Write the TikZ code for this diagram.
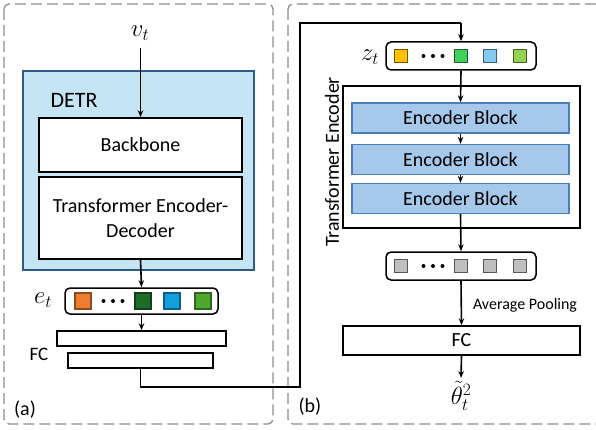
\documentclass[tikz,border=0pt]{standalone}
\usepackage{fontspec}
\setmainfont{Carlito}
\usetikzlibrary{arrows.meta}
\definecolor{detrfill}{HTML}{C5E5F5}
\definecolor{detrline}{HTML}{2E5A86}
\definecolor{blockfill}{HTML}{A6C9EB}
\definecolor{blockline}{HTML}{4A7EBB}
\definecolor{panelgray}{HTML}{8C8C8C}
\definecolor{tokOrange}{HTML}{ED7D31}
\definecolor{tokDkGreen}{HTML}{1F6B29}
\definecolor{tokBlue}{HTML}{12A0DB}
\definecolor{tokGreen}{HTML}{4EA82F}
\definecolor{tokYellow}{HTML}{FFC000}
\definecolor{tokMint}{HTML}{3DD15A}
\definecolor{tokSky}{HTML}{80CBEE}
\definecolor{tokLime}{HTML}{93D150}
\definecolor{tokGray}{HTML}{BFBFBF}
\tikzset{
  panel/.style={draw=panelgray, line width=1.3pt, dash pattern=on 11pt off 5pt, rounded corners=5pt},
  plainbox/.style={draw=black, line width=1.5pt, fill=white, inner sep=0pt, align=center,
    font=\fontsize{20}{25}\selectfont},
  encblock/.style={draw=blockline, line width=1.4pt, fill=blockfill, inner sep=0pt,
    minimum width=217pt, minimum height=30pt, font=\fontsize{20}{24}\selectfont},
  tokenrow/.style={draw=black, line width=1.5pt, rounded corners=5pt, fill=white, inner sep=0pt},
  bigtok/.style={draw=#1!60!black, line width=1.1pt, fill=#1, minimum size=16pt, inner sep=0pt},
  smalltok/.style={draw=#1!45!black, line width=1.1pt, fill=#1, minimum size=12.5pt, inner sep=0pt},
  dotmark/.style={circle, fill=black, minimum size=4pt, inner sep=0pt},
  flow/.style={line width=1.6pt, -{Stealth[length=7pt,width=5.5pt]}},
  wire/.style={line width=1.5pt},
  lbl/.style={font=\fontsize{20}{24}\selectfont, inner sep=0pt},
  mathlbl/.style={font=\fontsize{24}{28}\selectfont, inner sep=0pt}
}
\begin{document}
\begin{tikzpicture}[x=1pt,y=-1pt]
\useasboundingbox (0,0) rectangle (596,430);

% the two dashed panels
\draw[panel] (4,4) rectangle (273,424);
\draw[panel] (288,4) rectangle (620,424);
\node[lbl] (labA) at (25,410) {(a)};
\node[lbl] (labB) at (310,407) {(b)};

% ---- panel (a): DETR feature extractor ----
\node[draw=detrline, line width=1.4pt, fill=detrfill, minimum width=231pt, minimum height=199pt,
      inner sep=0pt] (detr) at (138.5,170.5) {};
\node[lbl, font=\fontsize{22}{26}\selectfont] (detrname) at (74,100) {DETR};
\node[plainbox, minimum width=203pt, minimum height=54pt] (backbone) at (140.5,145) {Backbone};
\node[plainbox, minimum width=203pt, minimum height=82pt] (encdec) at (140.5,218)
  {Transformer Encoder-\\Decoder};
\node[mathlbl] (vt) at (140,33) {$v_t$};
\coordinate (vtstart) at (140.5,48);
\draw[flow] (vtstart) -- (backbone.north);

\node[tokenrow, minimum width=153pt, minimum height=26pt] (erow) at (141.5,301) {};
\node[bigtok=tokOrange] (e1) at (83,301) {};
\node[dotmark] (ed1) at (103.5,301) {};
\node[dotmark] (ed2) at (113,301) {};
\node[dotmark] (ed3) at (122.5,301) {};
\node[bigtok=tokDkGreen] (e2) at (143,301) {};
\node[bigtok=tokBlue] (e3) at (172,301) {};
\node[bigtok=tokGreen] (e4) at (203,301) {};
\node[mathlbl] (et) at (43,300) {$e_t$};
\draw[flow] (encdec.south) -- (erow.north);

\node[plainbox, minimum width=169pt, minimum height=15pt] (fc1) at (141.5,338.5) {};
\node[plainbox, minimum width=145pt, minimum height=15pt] (fc2) at (140.5,360.5) {};
\node[lbl, font=\fontsize{19}{22}\selectfont] (fcname) at (39,354) {FC};
\draw[flow] (erow.south) -- (fc1.north);

% ---- panel (b): temporal transformer ----
\node[tokenrow, minimum width=150pt, minimum height=28pt] (zrow) at (461,56) {};
\node[smalltok=tokYellow] (z1) at (401,56) {};
\node[dotmark] (zd1) at (423.5,56) {};
\node[dotmark] (zd2) at (433,56) {};
\node[dotmark] (zd3) at (442.5,56) {};
\node[smalltok=tokMint] (z2) at (461,56) {};
\node[smalltok=tokSky] (z3) at (490,56) {};
\node[smalltok=tokLime] (z4) at (520,56) {};
\node[mathlbl] (zt) at (370,57) {$z_t$};

% long connector from the FC head of (a) into the token row of (b)
\coordinate (c1) at (140.5,387);
\coordinate (c2) at (300,387);
\coordinate (c3) at (300,23);
\coordinate (c4) at (461,23);
\draw[wire] (fc2.south) -- (c1) -- (c2) -- (c3) -- (c4);
\draw[flow] (c4) -- (zrow.north);

\node[draw=black, line width=1.5pt, minimum width=237pt, minimum height=142pt, inner sep=0pt]
  (tenc) at (461.5,157) {};
\node[lbl, rotate=90] (tencname) at (332,162) {Transformer Encoder};
\node[encblock] (blk1) at (460.5,118) {Encoder Block};
\node[encblock] (blk2) at (460.5,159.5) {Encoder Block};
\node[encblock] (blk3) at (460.5,198.5) {Encoder Block};
\draw[flow] (zrow.south) -- (blk1.north);
\draw[flow] (blk1.south) -- (blk2.north);
\draw[flow] (blk2.south) -- (blk3.north);

\node[tokenrow, minimum width=150pt, minimum height=28pt] (grow) at (461,266) {};
\node[smalltok=tokGray] (g1) at (401,266) {};
\node[dotmark] (gd1) at (423.5,266) {};
\node[dotmark] (gd2) at (433,266) {};
\node[dotmark] (gd3) at (442.5,266) {};
\node[smalltok=tokGray] (g2) at (461,266) {};
\node[smalltok=tokGray] (g3) at (490,266) {};
\node[smalltok=tokGray] (g4) at (520,266) {};
\draw[flow] (blk3.south) -- (grow.north);

\node[plainbox, minimum width=237pt, minimum height=29pt] (fcb) at (461.5,340.5) {FC};
\node[lbl, font=\fontsize{16}{19}\selectfont] (avgpool) at (525,305) {Average Pooling};
\draw[flow] (grow.south) -- (fcb.north);

\node[mathlbl] (theta) at (461,396) {$\tilde{\theta}_t^2$};
\coordinate (thetatip) at (461,378);
\draw[flow] (fcb.south) -- (thetatip);
\end{tikzpicture}
\end{document}
